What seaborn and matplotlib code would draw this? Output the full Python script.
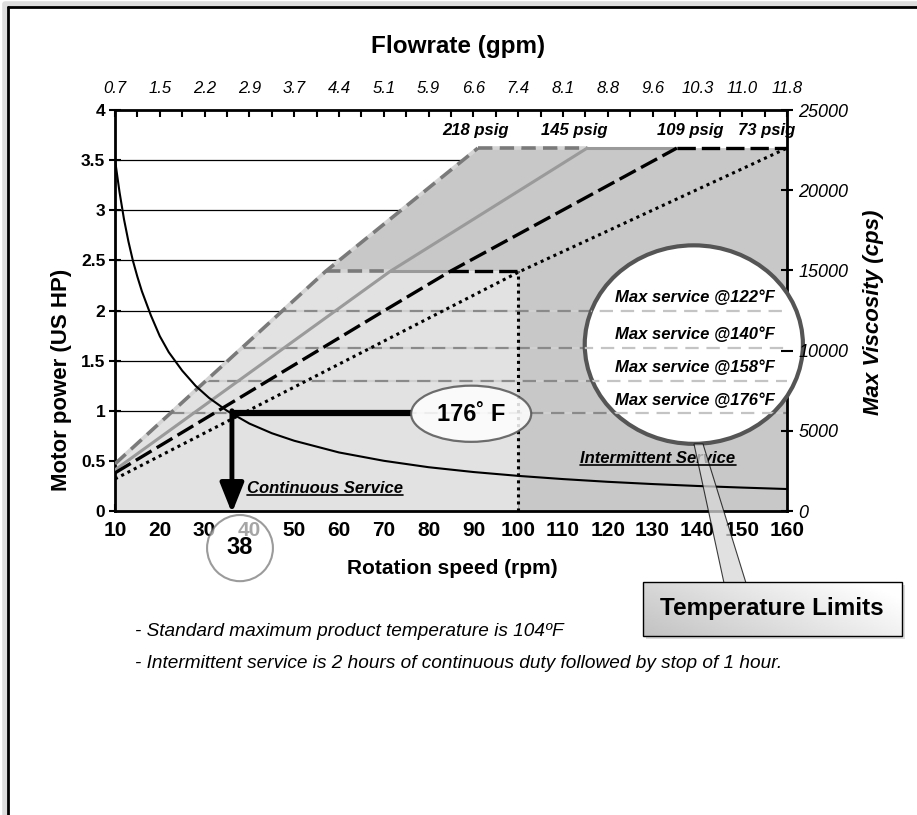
import numpy as np
import seaborn as sns
import matplotlib.pyplot as plt
from matplotlib.patches import Ellipse, Rectangle, Polygon
from matplotlib.ticker import MultipleLocator

# values
rpm_ticks = list(range(10, 161, 10))
flow_gpm = ['0.7', '1.5', '2.2', '2.9', '3.7', '4.4', '5.1', '5.9', '6.6',
            '7.4', '8.1', '8.8', '9.6', '10.3', '11.0', '11.8']
hp_ticks = [0, 0.5, 1, 1.5, 2, 2.5, 3, 3.5, 4]
hp_tick_labels = ['0', '0.5', '1', '1.5', '2', '2.5', '3', '3.5', '4']
cps_ticks = [0, 5000, 10000, 15000, 20000, 25000]

psig = ['218 psig', '145 psig', '109 psig', '73 psig']
psig_rpm = [[10, 57, 91], [10, 71.4, 115.4], [10, 69.8, 84.8, 135.4], [10, 100.4, 160]]
psig_hp = [[0.47, 2.39, 3.62], [0.41, 2.39, 3.62], [0.38, 1.99, 2.39, 3.62], [0.32, 2.39, 3.62]]
psig_label_rpm = [90.5, 112.5, 138.5, 155.5]

cont_max_hp = 2.39
cont_max_rpm = 100
max_hp = 3.62

visc_rpm = [10, 11, 12, 13, 14, 15, 16, 18, 20, 22, 25, 28, 31, 35, 40, 45, 50,
            60, 70, 80, 90, 100, 110, 120, 130, 140, 150, 160]
visc_cps = [21900, 19900, 18200, 16800, 15600, 14600, 13700, 12200, 10900, 9900,
            8750, 7800, 7050, 6250, 5450, 4850, 4380, 3650, 3130, 2730, 2430,
            2190, 1990, 1820, 1680, 1560, 1460, 1370]

service_temp = ['122°F', '140°F', '158°F', '176°F']
service_hp = [2.0, 1.63, 1.30, 0.98]

op_rpm = 36.1
op_hp = 0.98
op_label = '38'

W, H = 917, 815

sns.set_theme(style='white')
plt.rcParams['font.family'] = ['Liberation Sans', 'DejaVu Sans']
plt.rcParams['text.color'] = 'black'
plt.rcParams['axes.labelcolor'] = 'black'
plt.rcParams['xtick.color'] = 'black'
plt.rcParams['ytick.color'] = 'black'

styles = [
    dict(color='#7a7a7a', lw=2.6, ls=(0, (4, 2)), gapcolor='#d4d4d4'),
    dict(color='#9a9a9a', lw=2.2, ls='-'),
    dict(color='black', lw=2.4, ls=(0, (5.5, 1.8))),
    dict(color='black', lw=2.2, ls=(0, (1, 1.3))),
]


def px(x, y):
    return x / W, 1 - y / H


fig = plt.figure(figsize=(W / 100, H / 100), dpi=100)
ax = fig.add_axes([115 / W, 1 - 511 / H, 672 / W, 401 / H])
ax.set_xlim(10, 160)
ax.set_ylim(0, 4)

# grid lines behind the shaded areas
for y in hp_ticks[1:-1]:
    ax.axhline(y, color='black', lw=0.9, zorder=0.5)

# shaded service areas
r218, h218 = psig_rpm[0], psig_hp[0]
cross_cont = [min(np.interp(cont_max_hp, h, r), cont_max_rpm) for r, h in zip(psig_rpm, psig_hp)]
cross_top = [np.interp(max_hp, h, r) for r, h in zip(psig_rpm, psig_hp)]

light = [(10, 0), (10, h218[0]), (cross_cont[0], cont_max_hp),
         (cont_max_rpm, cont_max_hp), (cont_max_rpm, 0)]
dark = [(cont_max_rpm, 0), (cont_max_rpm, cont_max_hp), (cross_cont[0], cont_max_hp)]
dark += [(r, h) for r, h in zip(r218, h218) if h > cont_max_hp]
dark += [(160, max_hp), (160, 0)]
ax.add_patch(Polygon(dark, closed=True, facecolor='#c8c8c8', edgecolor='none', zorder=1))
ax.add_patch(Polygon(light, closed=True, facecolor='#e2e2e2', edgecolor='none', zorder=1.1))

# max service lines per temperature
service_x0 = [np.interp(h, h218, r218) for h in service_hp]
for x0, h in zip(service_x0, service_hp):
    ax.plot([x0, 160], [h, h], color='#8a8a8a', lw=1.6, ls=(0, (6, 3.5)),
            gapcolor='#d0d0d0', zorder=2)

# pressure lines
for i, name in enumerate(psig):
    st = styles[i]
    extra = {'gapcolor': st['gapcolor']} if 'gapcolor' in st else {}
    sns.lineplot(x=psig_rpm[i], y=psig_hp[i], ax=ax, color=st['color'], lw=st['lw'],
                 linestyle=st['ls'], zorder=3, **extra)
    if i < 3:
        ax.plot([cross_cont[i], cross_cont[i + 1]], [cont_max_hp, cont_max_hp],
                color=st['color'], lw=st['lw'], ls=st['ls'], zorder=3, **extra)
        ax.plot([cross_top[i], cross_top[i + 1]], [max_hp, max_hp],
                color=st['color'], lw=st['lw'], ls=st['ls'], zorder=3, **extra, clip_on=False)
    ax.text(psig_label_rpm[i], 3.80, name, ha='center', va='center', fontsize=12,
            fontweight='bold', fontstyle='italic', zorder=6)
st = styles[3]
ax.plot([cont_max_rpm, cont_max_rpm], [0, cont_max_hp], color=st['color'], lw=st['lw'],
        ls=st['ls'], zorder=3)

# operating point
ax.plot([op_rpm, 76.2], [op_hp, op_hp], color='black', lw=4.5, zorder=4, solid_capstyle='butt')
ax.annotate('', xy=(op_rpm, -0.02), xytext=(op_rpm, op_hp + 0.02), annotation_clip=False,
            arrowprops=dict(arrowstyle='-|>,head_length=1.5,head_width=0.6', lw=3.5,
                            color='black', shrinkA=0, shrinkB=0), zorder=4)
ax.add_patch(Ellipse((89.5, 0.97), 26.8, 0.56, facecolor='white', edgecolor='#555555',
                     lw=1.6, alpha=0.85, zorder=4.5))
ax.text(89.5, 0.965, '176˚ F', ha='center', va='center', fontsize=17, fontweight='bold', zorder=5)

# big temperature limit circle
big = Ellipse((139.2, 1.66), 48.7, 1.98, facecolor='white', edgecolor='#555555', lw=3,
              zorder=4.6, clip_on=False)
ax.add_patch(big)
for x0, h in zip(service_x0, service_hp):
    ln, = ax.plot([x0, 160], [h, h], color='#c4c4c4', lw=1.6, ls=(0, (6, 3.5)), zorder=4.7)
    ln.set_clip_path(big)
for t, h in zip(service_temp, service_hp):
    ax.text(157.3, h + 0.13, 'Max service @' + t, ha='right', va='center', fontsize=12,
            fontweight='bold', fontstyle='italic', zorder=6)

# 38 rpm circle below the axis
ax.add_patch(Ellipse((37.9, -0.37), 14.7, 0.66, facecolor='white', edgecolor='#666666',
                     lw=1.5, alpha=0.65, zorder=6, clip_on=False))
ax.text(37.9, -0.36, op_label, ha='center', va='center', fontsize=17, fontweight='bold',
        zorder=7, clip_on=False)

# service area labels
t_cont = ax.text(39.5, 0.22, 'Continuous Service', ha='left', va='center', fontsize=12,
                 fontweight='bold', fontstyle='italic', zorder=6)
t_int = ax.text(131.2, 0.52, 'Intermittent Service', ha='center', va='center', fontsize=12,
                fontweight='bold', fontstyle='italic', zorder=6)

# axes styling
ax.set_xticks(rpm_ticks, labels=[str(v) for v in rpm_ticks], fontweight='bold', fontsize=15)
ax.xaxis.set_minor_locator(MultipleLocator(5))
ax.tick_params(axis='x', which='both', direction='in', length=5, width=1.5, pad=7,
               color='black', top=False, bottom=True)
ax.set_yticks(hp_ticks, labels=hp_tick_labels, fontweight='bold', fontsize=12.5)
ax.tick_params(axis='y', direction='inout', length=8, width=1.5, pad=3, color='black')
for s in ax.spines.values():
    s.set_visible(True)
    s.set_color('black')
    s.set_linewidth(2)
ax.set_xlabel('')
ax.set_ylabel('')

ax2 = ax.twinx()
sns.lineplot(x=visc_rpm, y=visc_cps, ax=ax2, color='black', lw=1.5, zorder=3)
ax2.set_ylim(0, 25000)
ax2.set_yticks(cps_ticks, labels=[str(v) for v in cps_ticks], fontstyle='italic', fontsize=13)
ax2.tick_params(axis='y', direction='inout', length=8, width=1.5, pad=4, color='black')
ax2.set_ylabel('')
for s in ax2.spines.values():
    s.set_visible(False)

ax3 = ax.twiny()
ax3.set_xlim(10, 160)
ax3.set_xticks(rpm_ticks, labels=flow_gpm, fontstyle='italic', fontsize=12)
ax3.xaxis.set_minor_locator(MultipleLocator(5))
ax3.tick_params(axis='x', which='both', direction='in', length=5, width=1.5, pad=10, color='black')
for s in ax3.spines.values():
    s.set_visible(False)
ax.set_xlim(10, 160)

# axis titles
fig.text(*px(458, 46), 'Flowrate (gpm)', ha='center', va='center', fontsize=17.5, fontweight='bold')
fig.text(*px(452, 568), 'Rotation speed (rpm)', ha='center', va='center', fontsize=15, fontweight='bold')
fig.text(*px(62, 380), 'Motor power (US HP)', ha='center', va='center', rotation=90,
         fontsize=16, fontweight='bold')
fig.text(*px(873, 312), 'Max Viscosity (cps)', ha='center', va='center', rotation=90,
         fontsize=16, fontweight='bold', fontstyle='italic')

# notes
fig.text(*px(135, 632), '- Standard maximum product temperature is 104ºF', ha='left', va='center',
         fontsize=13.7, fontstyle='italic')
fig.text(*px(135, 663), '- Intermittent service is 2 hours of continuous duty followed by stop of 1 hour.',
         ha='left', va='center', fontsize=13.7, fontstyle='italic')

# overlay in pixel coordinates for the callout and frame
ov = fig.add_axes([0, 0, 1, 1], zorder=20)
ov.set_xlim(0, W)
ov.set_ylim(H, 0)
ov.axis('off')
ov.patch.set_visible(False)

ov.add_patch(Polygon([(694, 444), (724, 583), (746, 583), (703, 444)], closed=True,
                     facecolor='#d8d8d8', alpha=0.75, edgecolor='black', lw=0.8))
ov.add_patch(Rectangle((646, 585), 259, 54, facecolor='#b8b8b8', alpha=0.5, edgecolor='none'))
gx, gy = np.meshgrid(np.linspace(0, 1, 200), np.linspace(0, 1, 40))
grad = 0.76 + 0.24 * np.clip(0.75 * gx + 0.35 * (1 - gy), 0, 1)
ov.imshow(grad, extent=(643, 902, 636, 582), cmap='gray', vmin=0, vmax=1, aspect='auto',
          interpolation='bilinear', zorder=1)
ov.add_patch(Rectangle((643, 582), 259, 54, facecolor='none', edgecolor='black', lw=1, zorder=2))
ov.text(772, 609, 'Temperature Limits', ha='center', va='center', fontsize=17.5,
        fontweight='bold', zorder=3)

ov.plot([5, 5], [5, H], color='#dddddd', lw=4)
ov.plot([5, W], [4, 4], color='#dddddd', lw=4)
ov.plot([8, 8], [7, H], color='black', lw=2)
ov.plot([8, W], [7, 7], color='black', lw=2)
ov.set_xlim(0, W)
ov.set_ylim(H, 0)

# underline the service labels
fig.canvas.draw()
inv = ov.transData.inverted()
for t in (t_cont, t_int):
    bb = t.get_window_extent()
    (x0, y0), (x1, y1) = inv.transform([(bb.x0, bb.y0), (bb.x1, bb.y1)])
    ov.plot([x0, x1], [y0 - 1, y0 - 1], color='black', lw=1.2)

fig.savefig('out.png', dpi=100)
